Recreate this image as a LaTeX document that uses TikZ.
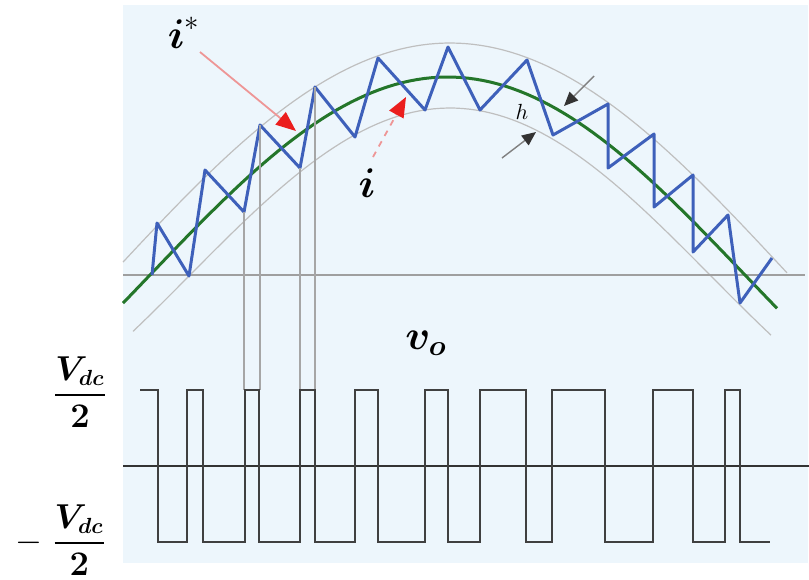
\documentclass[tikz,border=0pt]{standalone}
\usepackage{amsmath}
\usetikzlibrary{arrows.meta}

\definecolor{bgblue}{RGB}{237,246,252}
\definecolor{refgreen}{RGB}{36,118,42}
\definecolor{zigblue}{RGB}{62,96,186}
\definecolor{pinkline}{RGB}{238,150,150}
\definecolor{tipred}{RGB}{235,30,30}

\tikzset{
  band/.style={gray!50,line width=0.6pt},
  refwave/.style={refgreen,line width=1.5pt},
  zigzag/.style={zigblue,line width=1.5pt,line join=round},
  pulse/.style={black!75,line width=1pt},
  guide/.style={gray!70,line width=0.7pt},
  redarrow/.style={pinkline,line width=0.9pt,-{Triangle[length=10pt,width=8pt,color=tipred]}},
  blackarrow/.style={gray,line width=0.7pt,-{Triangle[length=7pt,width=6pt,color=black!80]}},
  biglabel/.style={font=\fontsize{20}{24}\selectfont},
  levellabel/.style={font=\fontsize{16}{19}\selectfont}
}

\begin{document}
\begin{tikzpicture}[x=0.5pt,y=-0.5pt]
  \useasboundingbox (0,0) rectangle (809,579);
  \fill[bgblue] (123,5) rectangle (808,563);

  % hysteresis band and reference current
  \draw[band,domain=123:787,samples=90] plot (\x,{275-232*sin((\x-111)/678*180)});
  \draw[band,domain=133:771,samples=90] plot (\x,{275-167*sin((\x-190)/520*180)});
  \draw[gray!75,line width=0.8pt] (123,275) -- (805,275);
  \draw[refwave,domain=123:777,samples=90] plot (\x,{275-198*sin((\x-150)/595*180)});

  % actual current
  \draw[zigzag] plot coordinates {(152,275) (157,223) (189,276) (205,170) (244,212)
    (260,125) (300,168) (315,87) (355,137) (378,58) (425,110) (448,47) (480,110)
    (527,60) (553,135) (608,104) (608,168) (654,134) (654,207) (693,175) (693,252)
    (728,215) (740,303) (772,258)};

  % switching instants
  \foreach \px/\py in {244/212,260/125,300/168,315/87}
    \draw[guide] (\px,\py) -- (\px,390);

  % output voltage
  \draw[black!80,line width=0.9pt] (123,466) -- (809,466);
  \draw[pulse] (140,390) -- (158,390) -- (158,542) -- (187,542) -- (187,390)
    -- (203,390) -- (203,542) -- (245,542) -- (245,390)
    -- (259,390) -- (259,542) -- (300,542) -- (300,390)
    -- (315,390) -- (315,542) -- (355,542) -- (355,390)
    -- (378,390) -- (378,542) -- (425,542) -- (425,390)
    -- (448,390) -- (448,542) -- (480,542) -- (480,390)
    -- (526,390) -- (526,542) -- (552,542) -- (552,390)
    -- (605,390) -- (605,542) -- (653,542) -- (653,390)
    -- (693,390) -- (693,542) -- (725,542) -- (725,390)
    -- (740,390) -- (740,542) -- (770,542);

  % labels
  \node[biglabel] (istar) at (184,33) {$\boldsymbol{i}^{*}$};
  \coordinate (istartail) at (200,52);
  \coordinate (istartip) at (296,131);
  \draw[redarrow] (istartail) -- (istartip);

  \node[biglabel] (ilab) at (367,183) {$\boldsymbol{i}$};
  \coordinate (itail) at (373,157);
  \coordinate (itip) at (406,97);
  \draw[redarrow,dashed] (itail) -- (itip);

  \node[font=\fontsize{11}{13}\selectfont] (hlab) at (522,112) {$h$};
  \coordinate (htopA) at (594,76);
  \coordinate (htopB) at (564,106);
  \coordinate (hbotA) at (502,158);
  \coordinate (hbotB) at (536,132);
  \draw[blackarrow] (htopA) -- (htopB);
  \draw[blackarrow] (hbotA) -- (hbotB);

  \node[biglabel] (volab) at (426,343) {$\boldsymbol{v_o}$};
  \node[levellabel] (vhigh) at (80,392) {$\dfrac{\boldsymbol{V_{dc}}}{\boldsymbol{2}}$};
  \node[levellabel] (vlow) at (61,540) {$-\;\dfrac{\boldsymbol{V_{dc}}}{\boldsymbol{2}}$};
\end{tikzpicture}
\end{document}
